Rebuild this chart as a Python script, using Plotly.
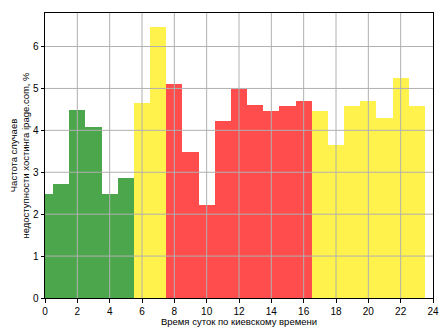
import plotly.graph_objects as go

hours = list(range(24))
values = [2.47, 2.73, 4.49, 4.09, 2.47, 2.87, 4.66, 6.47, 5.11, 3.49, 2.23, 4.23,
          4.98, 4.61, 4.45, 4.57, 4.71, 4.45, 3.64, 4.59, 4.71, 4.30, 5.26, 4.57]
groups = ["g"] * 6 + ["y"] * 2 + ["r"] * 9 + ["y"] * 7
palette = {"g": "#4CA64C", "y": "#FFF24C", "r": "#FF4C4C"}
colors = [palette[g] for g in groups]
x_ticks = list(range(0, 25, 2))
y_ticks = list(range(0, 7))
x_range = [0, 24]
y_range = [0, 6.8]

fig = go.Figure(go.Bar(x=hours, y=values, width=1, marker=dict(color=colors, line=dict(width=0))))

# grid drawn above the bars, as in the reference
grid_color = "#b0b0b0"
for t in x_ticks[1:-1]:
    fig.add_shape(type="line", xref="x", yref="paper", x0=t, x1=t, y0=0, y1=1,
                  line=dict(color=grid_color, width=1), layer="above")
for t in y_ticks[1:]:
    fig.add_shape(type="line", xref="paper", yref="y", x0=0, x1=1, y0=t, y1=t,
                  line=dict(color=grid_color, width=1), layer="above")

axis_common = dict(showgrid=False, showline=True, linecolor="black",
                   linewidth=1, mirror=True, ticks="outside", ticklen=3.5, tickcolor="black",
                   zeroline=False, tickfont=dict(size=10, color="black"), automargin=False,
                   layer="above traces")
fig.update_layout(
    width=448, height=336,
    margin=dict(l=45, r=15, t=13, b=38),
    paper_bgcolor="white", plot_bgcolor="white",
    font=dict(family="Liberation Sans, Arial", color="black"),
    showlegend=False, bargap=0,
    xaxis=dict(range=x_range, tickvals=x_ticks, title=dict(text="Время суток по киевскому времени",
               font=dict(size=9.5), standoff=1), **axis_common),
    yaxis=dict(range=y_range, tickvals=y_ticks, title=dict(text="Частота случаев<br>недоступности хостинга ipage.com, %",
               font=dict(size=9.5), standoff=1), **axis_common),
)
fig.write_html("out.html")
